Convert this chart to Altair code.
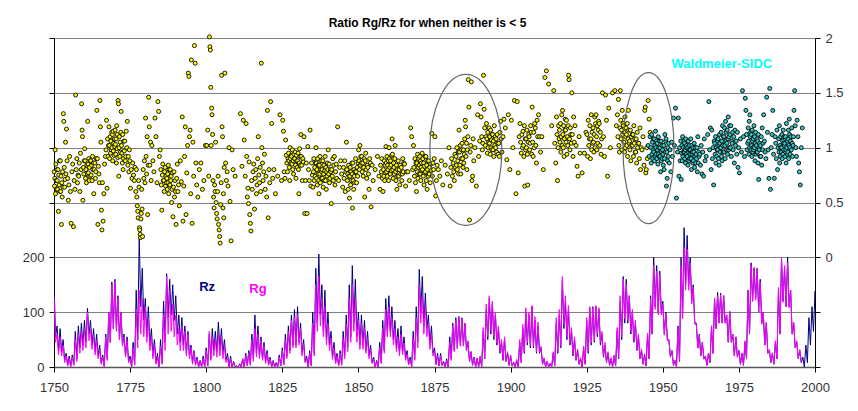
import altair as alt
import pandas as pd

# ---------------- sunspot series: per-year monthly envelope (high, low) ----------------
RZ_START = 1750
RZ_HI = [
    160, 75, 70, 50, 25, 20, 22, 65, 75, 80,
    85, 107, 85, 70, 60, 40, 22, 60, 100, 155,
    160, 130, 100, 60, 55, 20, 45, 140, 238, 180,
    125, 110, 70, 50, 25, 50, 120, 170, 160, 150,
    130, 95, 90, 75, 65, 40, 30, 18, 12, 20,
    35, 60, 70, 65, 82, 70, 50, 25, 20, 10,
    2, 6, 15, 25, 30, 60, 95, 75, 55, 45,
    30, 18, 12, 8, 22, 35, 60, 75, 95, 105,
    110, 80, 50, 20, 30, 100, 180, 206, 150, 140,
    100, 65, 45, 25, 30, 65, 95, 150, 185, 160,
    100, 95, 85, 65, 40, 18, 12, 45, 85, 125,
    130, 110, 85, 70, 75, 55, 30, 18, 65, 110,
    178, 165, 135, 95, 75, 35, 25, 25, 10, 15,
    55, 80, 90, 92, 90, 80, 45, 28, 18, 16,
    18, 65, 105, 125, 115, 95, 70, 45, 50, 25,
    20, 8, 12, 45, 70, 100, 95, 110, 85, 75,
    35, 15, 10, 6, 25, 80, 95, 158, 120, 105,
    65, 50, 30, 15, 35, 85, 108, 110, 110, 105,
    60, 40, 25, 15, 20, 65, 120, 165, 160, 130,
    100, 80, 55, 30, 22, 60, 130, 200, 185, 175,
    120, 100, 50, 30, 12, 75, 200, 254, 240, 200,
    150, 80, 60, 45, 20, 25, 75, 125, 136, 135,
    130, 95, 100, 60, 55, 30, 25, 45, 140, 190,
    180, 180, 160, 100, 80, 30, 25, 45, 140, 198,
    180, 200, 140, 80, 45, 30, 18, 40, 90, 110,
    138,
]
RZ_LO = [
    55, 30, 28, 12, 3, 2, 4, 15, 35, 40,
    45, 60, 40, 28, 20, 8, 2, 15, 45, 70,
    70, 50, 40, 20, 10, 0, 5, 50, 110, 85,
    55, 40, 20, 8, 0, 8, 45, 90, 95, 85,
    60, 45, 40, 25, 20, 8, 5, 0, 0, 0,
    2, 15, 30, 28, 30, 25, 12, 0, 0, 0,
    0, 0, 0, 3, 5, 15, 25, 20, 15, 10,
    5, 0, 0, 0, 2, 5, 20, 30, 40, 40,
    45, 25, 10, 0, 3, 25, 80, 95, 65, 50,
    40, 18, 8, 2, 4, 20, 35, 55, 80, 55,
    40, 40, 30, 20, 8, 0, 0, 8, 30, 65,
    65, 50, 35, 25, 28, 15, 5, 0, 15, 45,
    100, 75, 70, 40, 25, 5, 2, 3, 0, 0,
    15, 30, 35, 40, 40, 30, 10, 3, 0, 0,
    0, 15, 50, 60, 50, 40, 25, 12, 10, 3,
    2, 0, 0, 8, 25, 40, 35, 35, 25, 25,
    5, 0, 0, 0, 2, 25, 35, 70, 50, 40,
    20, 12, 5, 0, 5, 25, 40, 45, 55, 40,
    18, 8, 3, 0, 2, 15, 50, 80, 80, 60,
    45, 30, 15, 5, 2, 15, 60, 110, 100, 100,
    60, 50, 18, 3, 0, 10, 90, 150, 150, 120,
    80, 35, 20, 15, 3, 8, 25, 70, 80, 80,
    80, 45, 45, 20, 18, 5, 3, 15, 60, 120,
    125, 100, 80, 40, 25, 8, 5, 15, 60, 120,
    110, 110, 60, 35, 15, 8, 0, 8, 40, 65,
    100,
]
RG_START = 1750
RG_HI = [
    127, 60, 55, 40, 20, 15, 18, 50, 60, 65,
    70, 100, 70, 58, 48, 32, 18, 55, 100, 150,
    155, 125, 100, 55, 48, 15, 35, 105, 140, 125,
    110, 90, 55, 40, 18, 38, 95, 165, 140, 115,
    95, 70, 75, 65, 60, 35, 28, 15, 10, 15,
    30, 65, 55, 50, 60, 55, 38, 18, 15, 8,
    2, 5, 15, 22, 25, 50, 70, 60, 48, 38,
    25, 15, 10, 6, 18, 30, 50, 65, 85, 90,
    95, 70, 42, 15, 25, 80, 150, 165, 125, 110,
    80, 52, 36, 20, 25, 52, 78, 125, 150, 125,
    85, 80, 70, 52, 32, 14, 10, 36, 70, 105,
    110, 90, 70, 55, 60, 44, 24, 14, 52, 90,
    150, 130, 110, 78, 60, 28, 20, 20, 8, 12,
    45, 75, 85, 90, 88, 80, 48, 28, 17, 16,
    20, 72, 115, 130, 120, 100, 75, 50, 55, 28,
    22, 9, 14, 50, 78, 108, 100, 112, 92, 82,
    38, 17, 11, 7, 28, 90, 105, 165, 130, 112,
    72, 55, 33, 17, 38, 90, 110, 108, 112, 108,
    65, 45, 28, 17, 22, 72, 130, 160, 150, 130,
    105, 85, 60, 33, 24, 62, 125, 185, 175, 170,
    115, 98, 50, 30, 12, 72, 185, 218, 215, 190,
    145, 78, 58, 44, 20, 25, 75, 125, 130, 132,
    130, 95, 102, 60, 55, 30, 25, 48, 140, 185,
    182, 178, 155, 100, 82, 32, 26, 48, 145, 198,
    185, 190, 140, 82, 48, 32,
]
RG_LO = [
    45, 22, 20, 8, 2, 0, 3, 10, 25, 30,
    35, 48, 32, 22, 15, 5, 0, 12, 45, 70,
    65, 50, 38, 18, 8, 0, 3, 35, 60, 55,
    45, 30, 15, 5, 0, 5, 30, 60, 65, 55,
    40, 30, 30, 20, 15, 5, 3, 0, 0, 0,
    2, 12, 20, 18, 20, 15, 8, 0, 0, 0,
    0, 0, 0, 2, 3, 10, 18, 15, 12, 6,
    3, 0, 0, 0, 2, 4, 15, 25, 35, 35,
    40, 20, 8, 0, 2, 20, 65, 75, 55, 40,
    30, 14, 6, 2, 3, 15, 28, 45, 65, 45,
    32, 32, 25, 15, 6, 0, 0, 6, 25, 55,
    55, 40, 28, 20, 22, 12, 4, 0, 12, 35,
    80, 60, 55, 32, 20, 4, 2, 2, 0, 0,
    12, 28, 33, 38, 38, 30, 10, 3, 0, 0,
    0, 16, 55, 65, 55, 44, 28, 13, 11, 3,
    2, 0, 0, 9, 28, 44, 38, 38, 28, 28,
    5, 0, 0, 0, 2, 28, 38, 78, 55, 44,
    22, 13, 5, 0, 5, 28, 44, 48, 60, 44,
    20, 9, 3, 0, 2, 17, 55, 88, 85, 65,
    48, 32, 16, 5, 2, 15, 60, 105, 95, 95,
    58, 48, 18, 3, 0, 10, 88, 140, 140, 115,
    78, 34, 20, 14, 3, 8, 25, 70, 80, 80,
    80, 46, 46, 20, 18, 5, 3, 15, 60, 120,
    122, 100, 78, 40, 25, 8, 5, 15, 60, 118,
    110, 108, 60, 35, 15, 8,
]

# ---------------- monthly ratio Rg/Rz, grouped per year ----------------
YELLOW_START = 1750
YELLOW_RATIO = [
    [0.78, 0.65, 0.72, 0.98, 0.58, 0.85, 0.70, 0.62, 0.80],  # 1750
    [0.70, 0.62, 0.80, 0.42, 0.75, 0.66, 0.88, 0.60],
    [0.88, 0.60, 0.74, 0.30, 0.68, 0.55, 0.78, 0.64],
    [1.31, 1.24, 0.82, 0.64, 0.71, 1.05, 0.76],
    [1.17, 0.88, 0.72, 0.52, 0.66],
    [0.92, 0.60, 0.31, 0.78],
    [0.85, 0.28, 0.70, 0.62],
    [1.48, 0.80, 0.90, 0.68, 0.75],
    [0.74, 0.86, 0.60, 0.95, 0.80],
    [1.40, 1.16, 1.10, 0.52, 0.82, 0.76, 0.88],
    [0.99, 0.88, 0.72, 0.80, 0.68, 0.84, 0.76],  # 1760
    [1.24, 0.85, 0.77, 0.90, 0.70, 0.82, 0.74, 0.88],
    [0.88, 0.75, 0.84, 0.70, 0.92, 0.80, 0.86],
    [0.58, 0.80, 0.86, 0.72, 0.78, 0.90],
    [1.34, 0.90, 0.30, 0.83, 0.76, 0.68],
    [1.43, 1.19, 1.05, 0.43, 0.25, 0.68],
    [0.33, 0.58, 0.85, 0.92],
    [0.98, 1.25, 0.63, 1.08, 0.92, 1.02],
    [1.19, 1.02, 0.90, 1.10, 0.95, 1.06, 0.98, 1.14],
    [1.00, 1.12, 0.88, 1.15, 0.97, 1.04, 0.93, 1.08, 1.01],
    [1.16, 1.03, 0.94, 1.08, 0.86, 1.20, 0.99, 1.12, 0.91],  # 1770
    [1.43, 1.40, 0.74, 1.00, 1.10, 0.92, 1.05, 0.96, 1.14],
    [1.33, 1.02, 0.95, 0.86, 1.12, 0.80, 0.90, 1.06],
    [0.97, 1.06, 0.88, 0.92, 1.15, 1.00],
    [1.24, 0.84, 0.92, 0.78, 0.98, 0.88],
    [0.63, 0.80, 0.72, 0.86],
    [0.75, 0.70, 0.82, 0.60],
    [0.80, 0.55, 0.47, 0.42, 0.36, 0.70, 0.64],
    [0.27, 0.25, 0.21, 0.18, 0.35, 0.40, 0.62, 0.44],
    [0.19, 0.80, 0.72, 0.88, 0.68],
    [1.27, 0.92, 0.76, 1.10, 0.39, 0.84],  # 1780
    [1.46, 1.19, 0.84, 1.05, 0.70],
    [1.02, 0.88, 0.78],
    [1.27, 1.10, 0.68],
    [1.42, 1.33, 0.92, 0.98],
    [0.80, 0.66, 0.43, 0.75, 0.85, 0.70],
    [0.70, 0.60, 0.78, 0.82, 0.65, 0.74, 0.68],
    [0.72, 0.62, 0.76, 0.68, 0.84, 0.58, 0.80, 0.66],
    [0.66, 0.80, 0.70, 0.74, 0.50, 0.62, 0.77],
    [0.37, 0.64, 0.78, 0.55, 0.70, 0.60],
    [0.30, 0.72, 0.85, 0.60, 0.66],  # 1790
    [0.47, 0.88, 0.69],
    [1.28, 0.33, 0.65, 0.92],
    [1.19, 0.39, 0.77, 1.02],
    [1.68, 1.65, 1.10, 1.16, 0.58],
    [1.80, 0.31, 1.05, 0.74],
    [1.93, 1.77, 0.86, 0.66],
    [0.55, 0.80],
    [0.86, 0.62],
    [0.70, 1.02],
    [1.02, 1.16, 0.74],  # 1800
    [2.01, 1.92, 1.89, 1.55, 1.02, 1.36, 1.30],
    [1.12, 0.70, 0.55, 0.45, 0.66, 0.60],
    [1.05, 0.50, 0.40, 0.35, 0.60, 0.74],
    [0.30, 0.25, 0.19, 0.13, 0.48, 0.68],
    [1.66, 1.19, 1.10, 0.45, 0.58, 0.36, 0.82],
    [1.68, 0.86, 0.70, 0.78],
    [0.65, 1.00, 0.51],
    [0.15, 0.98, 0.80],
    [0.74],
    [],  # 1810
    [1.31, 0.83],
    [1.25, 1.07, 0.74],
    [1.22, 0.92, 0.55, 0.63, 0.49],
    [0.87, 0.39, 0.31, 0.24, 0.70],
    [0.62, 0.78, 0.85, 0.44],
    [0.72, 0.80, 0.58, 0.66, 0.90],
    [1.10, 0.75, 0.68, 0.82, 0.60],
    [1.77, 1.00, 0.86, 0.70, 0.78],
    [0.94, 0.62, 0.74, 0.55],
    [1.34, 0.36, 0.80, 0.68],  # 1820
    [1.42, 1.22, 0.72],
    [0.80, 0.58],
    [0.74],
    [1.30, 0.70],
    [1.25, 1.15, 0.78, 0.72],
    [1.07, 0.93, 0.86, 0.78, 0.90],
    [0.95, 0.88, 0.82, 0.70, 1.00, 0.90, 0.86, 0.93],
    [0.92, 0.85, 0.98, 0.80, 0.88, 0.76, 0.94, 0.90],
    [0.90, 0.96, 0.84, 0.72, 0.93, 0.88, 0.82],
    [0.88, 0.95, 0.80, 0.58, 0.86, 0.99, 0.92, 0.84],  # 1830
    [1.12, 0.92, 0.84, 0.70, 0.90, 0.87],
    [1.10, 0.40, 0.70, 0.86],
    [0.40, 1.01, 0.80, 0.70],
    [1.16, 0.65, 0.86, 0.75],
    [0.64, 0.78, 0.90, 0.70, 0.82, 0.74, 0.86],
    [1.00, 0.86, 0.72, 0.80, 0.66, 0.90, 0.76, 0.84, 0.70],
    [0.58, 0.84, 0.76, 0.92, 0.68, 0.80, 0.88, 0.72, 0.78],
    [0.80, 0.72, 0.88, 0.64, 0.76, 0.84, 0.70, 0.79],
    [0.92, 0.70, 0.82, 0.62, 0.78, 0.74, 0.86, 0.80],
    [0.98, 0.76, 0.85, 0.68, 0.72, 0.80, 0.78],  # 1840
    [0.49, 0.80, 0.74, 0.90, 0.70, 0.84],
    [0.92, 0.66, 0.78, 0.85, 0.72],
    [1.19, 0.70, 0.82],
    [0.88, 0.76, 0.64],
    [0.82, 0.72, 0.88, 0.60, 0.78],
    [1.05, 0.80, 0.70, 0.76, 0.62, 0.84, 0.74],
    [0.54, 0.74, 0.82, 0.66, 0.78, 0.70, 0.86, 0.76],
    [0.45, 0.86, 0.70, 0.62, 0.80, 0.74, 0.68, 0.78],
    [0.90, 0.78, 0.68, 0.82, 0.74, 0.86],
    [0.98, 0.88, 0.80, 1.02, 0.84, 0.92, 0.86],  # 1850
    [0.92, 0.78, 0.86, 0.74, 0.82, 0.90],
    [0.55, 0.88, 0.95, 0.80, 0.72, 0.84],
    [0.82, 0.76, 0.62, 0.90, 0.86],
    [0.46, 0.84, 0.70],
    [0.80],
    [0.92, 0.74],
    [0.62, 0.84, 0.78, 0.90, 0.72],
    [0.60, 0.80, 0.74, 0.88, 0.70, 0.84, 0.77],
    [1.01, 0.86, 0.78, 0.92, 0.74, 0.84, 0.80, 0.88, 0.70],
    [1.00, 0.90, 0.82, 0.76, 0.88, 0.84, 0.79, 0.93],  # 1860
    [1.08, 0.94, 0.80, 0.72, 0.86, 0.82, 0.76, 0.90],
    [1.02, 0.78, 0.70, 0.84, 0.62, 0.80, 0.74],
    [0.88, 0.74, 0.80, 0.66, 0.84, 0.76],
    [0.82, 0.70, 0.76, 0.90, 0.78, 0.86],
    [0.85, 0.65, 0.78],
    [0.78, 0.70],
    [1.18, 1.10, 0.80],
    [1.02, 0.82, 0.74, 0.90, 0.68, 0.86],
    [0.60, 0.86, 0.78, 0.94, 0.72, 0.82, 0.90, 0.76],
    [0.84, 0.92, 0.76, 0.88, 0.70, 0.82, 0.86, 0.79, 0.95],  # 1870
    [0.80, 0.90, 0.74, 0.86, 0.66, 0.83, 0.77, 0.92],
    [0.78, 0.92, 0.70, 0.84, 0.62, 0.80, 0.88, 0.74],
    [0.88, 0.76, 0.82, 0.68, 0.85, 0.79],
    [1.13, 0.74, 0.86, 0.80, 0.90],
    [1.10, 0.56, 0.70, 0.84],
    [0.80, 0.74],
    [0.88, 0.66],
    [0.84],
    [0.76, 1.00],
    [0.65, 0.82, 0.90, 0.74],  # 1880
    [0.86, 0.78, 0.70, 0.94, 0.82],
    [0.92, 0.84, 1.00, 0.80, 0.88, 0.96, 0.76],
    [1.16, 0.96, 0.84, 1.02, 0.76, 0.90, 0.98],
    [1.04, 0.90, 0.82, 0.98, 0.86, 0.94, 1.08],
    [1.25, 1.19, 0.92, 1.04, 0.80, 0.98, 1.10],
    [1.62, 1.37, 0.34, 0.96, 1.02],
    [1.60, 0.70, 0.74, 1.08, 0.88],
    [1.00, 0.65],
    [1.30, 0.92, 1.06],
    [1.40, 1.28, 1.10, 0.98, 1.04],  # 1890
    [1.66, 1.35, 1.18, 1.02, 1.10],
    [1.22, 1.08, 0.95, 1.14, 1.00, 1.05, 1.18],
    [1.04, 1.10, 0.94, 1.16, 1.00, 1.07, 0.98, 1.12],
    [1.12, 0.98, 1.06, 0.92, 1.20, 1.02, 1.10],
    [1.00, 1.08, 0.96, 1.12, 1.04, 0.94],
    [1.04, 0.92, 1.14, 1.24, 1.08],
    [0.96, 1.10, 1.26],
    [1.18, 0.89],
    [1.30, 0.80],
    [1.25, 1.00],  # 1900
    [1.43, 0.58],
    [1.42, 0.77, 1.10],
    [1.22, 1.05, 0.95, 1.12, 1.00],
    [1.15, 1.02, 0.92, 1.20, 0.65, 1.08, 0.98],
    [1.08, 1.00, 1.16, 0.94, 0.66, 1.05, 1.12],
    [1.10, 0.98, 1.04, 1.20, 1.14, 0.94],
    [1.37, 1.05, 0.92, 1.14, 1.00, 1.22],
    [1.18, 1.02, 0.86, 1.25, 1.10],
    [1.30, 1.10, 0.96],
    [1.10, 0.80],  # 1910
    [1.64, 1.70],
    [1.58],
    [1.20],
    [1.52, 1.04, 0.86],
    [1.28, 1.12, 0.70, 1.00, 1.20, 1.08],
    [1.16, 1.05, 1.22, 0.96, 1.10, 1.30, 1.02],
    [1.34, 1.12, 1.00, 1.20, 0.92, 1.08, 1.16, 1.26],
    [1.16, 1.05, 1.25, 0.94, 1.10, 1.02, 1.20],
    [1.66, 1.62, 1.08, 0.98, 1.18, 1.12, 1.04],
    [1.50, 1.12, 0.92, 1.28, 1.05],  # 1920
    [1.20, 1.02, 0.83],
    [0.74, 1.10, 0.95],
    [0.77],
    [0.95, 1.14],
    [1.12, 0.92, 1.25, 1.02, 1.08],
    [1.20, 0.90, 1.08, 1.30, 0.98, 1.14, 1.04],
    [1.18, 1.05, 0.96, 1.12, 1.28, 1.00, 1.22],
    [1.30, 1.10, 0.98, 1.20, 1.04, 1.16, 1.24],
    [1.22, 1.02, 1.14, 0.94, 1.08],
    [1.50, 1.10, 0.92],  # 1930
    [1.48, 1.25, 0.74],
    [1.36, 1.00],
    [1.50],
    [1.52, 1.20],
    [1.30, 1.10, 1.44, 1.02, 0.96, 1.18],
    [1.52, 1.25, 1.08, 1.16, 0.98, 1.34, 1.12, 1.22],
    [1.20, 1.05, 1.14, 0.96, 1.28, 1.00, 1.10, 1.18],
    [1.12, 1.02, 1.22, 0.92, 1.08, 1.34, 1.16, 1.04],
    [1.06, 0.98, 1.16, 0.88, 1.10, 1.02, 1.12],
    [1.02, 1.12, 0.92, 1.20, 1.04, 1.08, 0.96],  # 1940
    [0.96, 1.08, 0.86, 1.14, 1.00, 1.04],
    [1.04, 0.90, 1.18, 0.80, 1.00],
    [0.98, 1.10, 0.84],
    [1.34, 1.37, 0.77, 0.80, 1.00, 0.90],
    [1.43, 1.26, 1.14],  # 1945
]
CYAN_START = 1945
CYAN_RATIO = [
    [1.02, 0.92, 1.10],  # 1945
    [1.00, 0.86, 1.12, 0.94, 1.05, 0.90, 0.98, 1.08],
    [0.96, 1.08, 0.88, 1.02, 0.92, 1.15, 1.00, 0.94, 1.06],
    [0.90, 1.04, 0.98, 0.85, 1.10, 0.94, 1.00, 0.92, 1.06],
    [1.00, 0.92, 0.78, 1.06, 0.88, 0.96, 1.02, 0.90, 0.98],
    [0.94, 0.84, 1.02, 0.80, 0.90, 1.12, 0.96, 1.06],  # 1950
    [1.08, 0.65, 0.96, 0.72, 0.88, 1.00, 0.92, 1.04],
    [0.86, 0.98, 0.78, 1.05],
    [0.92, 1.27, 1.02],
    [1.36, 0.54, 0.96],
    [1.27, 0.74, 1.00, 0.88, 1.06],
    [0.71, 0.95, 1.02, 0.88, 1.10, 0.92, 1.00, 0.96, 1.06],
    [0.96, 1.04, 0.90, 0.98, 0.86, 1.08, 1.00, 0.94, 1.02, 0.92],
    [0.92, 1.00, 0.84, 1.06, 0.96, 0.88, 0.98, 1.02, 0.90, 0.94],
    [0.98, 1.08, 0.90, 0.80, 1.02, 0.94, 0.96, 0.86, 1.00],
    [0.88, 0.96, 1.04, 0.82, 0.92, 1.00, 0.86, 0.94],  # 1960
    [0.90, 1.00, 0.78, 1.10, 0.86, 0.96, 0.92],
    [0.94, 0.84, 1.02, 0.76],
    [0.96, 0.74, 1.08, 0.88],
    [0.92, 1.12],
    [1.42, 0.98, 1.18, 0.80],
    [1.16, 0.90, 1.00, 0.66, 1.06],
    [1.04, 0.94, 1.10, 0.86, 1.00, 0.92, 0.98, 1.06],
    [0.98, 1.08, 0.90, 1.02, 0.84, 1.12, 1.04, 0.96, 1.00],
    [1.00, 1.14, 0.92, 1.06, 0.88, 1.20, 1.02, 0.96, 1.10],
    [1.10, 0.96, 1.18, 1.02, 0.90, 1.24, 1.06, 1.14, 0.98],  # 1970
    [1.04, 1.16, 0.94, 1.08, 1.28, 0.98, 1.10, 1.00, 1.20],
    [1.12, 1.00, 1.20, 0.92, 1.06, 1.04, 1.14],
    [0.98, 1.10, 0.86, 1.16, 1.02],
    [1.06, 0.94, 1.14, 0.82, 1.00],
    [0.77, 1.08, 0.96],
    [1.52, 1.10, 0.92],
    [1.45, 1.34, 1.12, 0.98, 1.04],
    [1.18, 1.06, 0.94, 1.24, 1.00, 1.30, 1.10, 1.14, 0.98],
    [1.12, 1.02, 0.92, 1.16, 1.06, 0.96, 1.00, 1.08, 0.98, 1.20],
    [1.00, 1.10, 0.88, 1.04, 1.14, 0.94, 1.02, 0.96, 1.08],  # 1980
    [0.96, 1.06, 0.86, 1.12, 0.71, 1.00, 0.98, 1.04, 0.92],
    [1.02, 0.92, 1.10, 0.84, 1.18, 0.98, 1.04],
    [1.30, 1.06, 0.96, 0.90],
    [1.46, 1.14, 0.98, 0.72],
    [1.54, 0.62, 1.00, 1.12],
    [1.34, 0.94, 0.72, 1.10],
    [1.04, 0.90, 1.16, 0.80, 1.00],
    [1.08, 0.96, 1.20, 0.86, 1.02, 0.92, 1.10, 1.00, 0.96],
    [1.00, 1.12, 0.90, 1.06, 0.94, 1.16, 1.04, 0.98, 1.10, 1.02],
    [1.04, 0.92, 1.10, 0.98, 0.86, 1.22, 1.00, 1.06, 0.94],  # 1990
    [0.96, 1.08, 1.16, 0.90, 1.02, 1.26, 1.12, 1.00, 0.94, 1.06],
    [1.10, 0.98, 1.18, 1.04, 0.92, 1.02, 1.10],
    [1.34, 1.52, 1.20, 1.00, 0.92],
    [1.25, 1.10, 0.86, 0.78],
    [0.66, 1.00, 1.18],  # 1995
]

# annotations
ELLIPSE_YEAR = [1885.3, 1945.3]
ELLIPSE_RATIO = [0.98, 0.995]
SERIES_LABELS = ["Rz", "Rg"]
SERIES_LABEL_YEAR = [1800.3, 1817.0]
SERIES_LABEL_VALUE = [145, 142]
SOURCE_LABEL = "Waldmeier-SIDC"
SOURCE_LABEL_YEAR = 1969.4
SOURCE_LABEL_RATIO = 1.76
TITLE = "Ratio Rg/Rz for when neither is < 5"

assert len(RZ_HI) == len(RZ_LO) == 251
assert len(RG_HI) == len(RG_LO) == 246
assert len(YELLOW_RATIO) == 196 and len(CYAN_RATIO) == 51


def band_frame(start, hi, lo):
    rows = []
    for i, (h, l) in enumerate(zip(hi, lo)):
        rows.append({"year": start + i, "v": h})
        rows.append({"year": start + i + 0.5, "v": l})
    return pd.DataFrame(rows)


def scatter_frame(start, groups):
    rows = []
    for i, g in enumerate(groups):
        n = len(g)
        for j, r in enumerate(g):
            rows.append({"year": start + i + (j + 0.5) / n, "r": r})
    return pd.DataFrame(rows)


rz_df = band_frame(RZ_START, RZ_HI, RZ_LO)
rg_df = band_frame(RG_START, RG_HI, RG_LO)
yel_df = scatter_frame(YELLOW_START, YELLOW_RATIO)
cyan_df = scatter_frame(CYAN_START, CYAN_RATIO)
lab_df = pd.DataFrame({"year": SERIES_LABEL_YEAR, "v": SERIES_LABEL_VALUE, "t": SERIES_LABELS})
src_df = pd.DataFrame({"year": [SOURCE_LABEL_YEAR], "r": [SOURCE_LABEL_RATIO], "t": [SOURCE_LABEL]})
ell_df = pd.DataFrame({"year": ELLIPSE_YEAR, "r": ELLIPSE_RATIO})

FONT = "Liberation Sans"

X = alt.X(
    "year:Q",
    scale=alt.Scale(domain=[1750, 2000], nice=False, zero=False),
    axis=alt.Axis(values=list(range(1750, 2001, 25)), format="d", title=None, grid=False,
                  labelFlush=False, tickSize=5, labelPadding=9,
                  domainColor="#555555", domainWidth=1.3),
)
Y_LEFT = alt.Y(
    "v:Q",
    scale=alt.Scale(domain=[0, 600], nice=False, zero=False),
    axis=alt.Axis(orient="left", values=[0, 100, 200, 300, 400, 500, 600],
                  labelExpr="datum.value <= 200 ? datum.label : ''",
                  grid=True, gridColor="#808080", gridWidth=1.2, title=None,
                  tickSize=5, labelPadding=5, domainColor="black"),
)
Y_RIGHT = alt.Y(
    "r:Q",
    scale=alt.Scale(domain=[-1, 2], nice=False, zero=False),
    axis=alt.Axis(orient="right", values=[-1, -0.5, 0, 0.5, 1, 1.5, 2], format="~g",
                  labelExpr="datum.value >= 0 ? datum.label : ''",
                  grid=False, title=None, tickSize=5, labelPadding=5, domainColor="black"),
)

rz_line = alt.Chart(rz_df).mark_line(color="#000080", strokeWidth=1, clip=True).encode(x=X, y=Y_LEFT)
rg_line = alt.Chart(rg_df).mark_line(color="#FF00FF", strokeWidth=1, clip=True).encode(x=X, y=Y_LEFT)
rz_text = alt.Chart(lab_df).mark_text(fontSize=13, fontWeight="bold", font=FONT).encode(
    x=X, y=Y_LEFT, text="t:N",
    color=alt.Color("t:N", scale=alt.Scale(domain=SERIES_LABELS, range=["#000080", "#FF00FF"]), legend=None),
)
left = alt.layer(rz_line, rg_line, rz_text)

yel = alt.Chart(yel_df).mark_point(filled=True, shape="circle", size=16, fill="#FFFF00",
                                    stroke="black", strokeWidth=0.9, opacity=1).encode(x=X, y=Y_RIGHT)
cyan = alt.Chart(cyan_df).mark_point(filled=True, shape="circle", size=16, fill="#33CCCC",
                                      stroke="black", strokeWidth=0.9, opacity=1).encode(x=X, y=Y_RIGHT)


def ellipse_path(a):
    k = 0.5523 * a
    return (f"M {a} 0 C {a} 0.5523 {k} 1 0 1 C {-k} 1 {-a} 0.5523 {-a} 0 "
            f"C {-a} -0.5523 {-k} -1 0 -1 C {k} -1 {a} -0.5523 {a} 0 Z")


ell1 = alt.Chart(ell_df.iloc[[0]]).mark_point(shape=ellipse_path(0.477), size=22801, filled=False,
                                               stroke="#666666", strokeWidth=1.2, opacity=1).encode(x=X, y=Y_RIGHT)
ell2 = alt.Chart(ell_df.iloc[[1]]).mark_point(shape=ellipse_path(0.338), size=22801, filled=False,
                                               stroke="#666666", strokeWidth=1.2, opacity=1).encode(x=X, y=Y_RIGHT)
src_text = alt.Chart(src_df).mark_text(fontSize=13, fontWeight="bold", font=FONT, color="#00FFFF").encode(
    x=X, y=Y_RIGHT, text="t:N")
right = alt.layer(yel, cyan, ell1, ell2, src_text)

chart = (
    alt.layer(left, right)
    .resolve_scale(y="independent")
    .properties(
        width=761, height=329,
        padding={"left": 46, "top": 30, "right": 35, "bottom": 36},
        autosize=alt.AutoSizeParams(type="none"),
        title=alt.TitleParams(TITLE, fontSize=12, fontWeight="bold", font=FONT, color="black",
                              anchor="middle", offset=2, dx=-7),
        background="white",
    )
    .configure_view(stroke=None)
    .configure_axis(labelFont=FONT, labelFontSize=13, labelColor="#333333", tickColor="black",
                    tickWidth=1, domainWidth=1)
)

chart.save("out.html", embed_options={"renderer": "svg", "actions": False})
